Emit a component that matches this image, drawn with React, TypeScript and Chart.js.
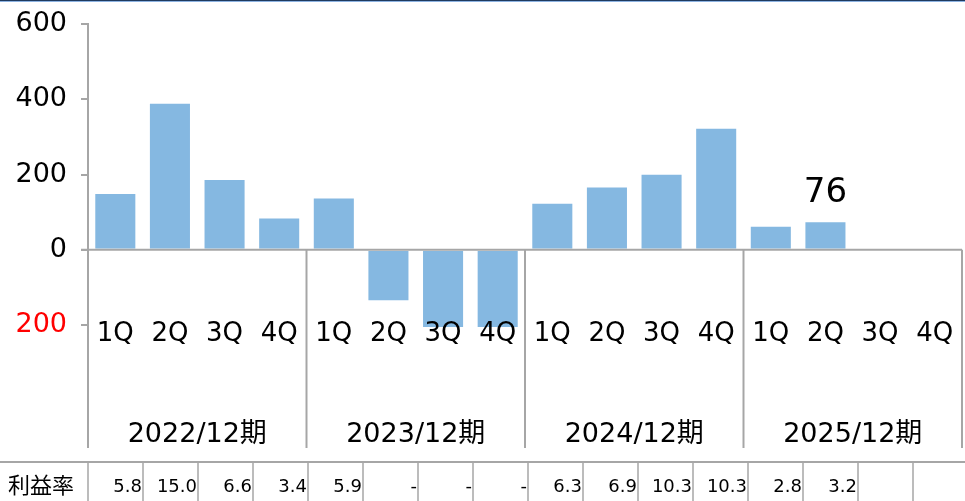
import React, { useEffect, useRef } from "react";
import { Chart, registerables } from "chart.js";

Chart.register(...registerables);

const quarters = ["1Q", "2Q", "3Q", "4Q", "1Q", "2Q", "3Q", "4Q", "1Q", "2Q", "3Q", "4Q", "1Q", "2Q", "3Q", "4Q"];
const years = ["2022/12期", "2023/12期", "2024/12期", "2025/12期"];
const profits: (number | null)[] = [151, 391, 188, 86, 139, -137, -208, -208, 125, 168, 202, 324, 64, 76, null, null];
const margins = ["5.8", "15.0", "6.6", "3.4", "5.9", "-", "-", "-", "6.3", "6.9", "10.3", "10.3", "2.8", "3.2", "", ""];
const marginLabel = "利益率";
const highlightIndex = 13;
const yMin = -200;
const yMax = 600;
const yStep = 200;

const FONT = '"DejaVu Sans", "Noto Sans CJK JP", sans-serif';
const AXIS = "#A6A6A6";
const BAR = "#85B8E1";

const overlay = {
  id: "overlay",
  afterDraw(chart: any) {
    const ctx = chart.ctx as CanvasRenderingContext2D;
    const x = chart.scales.x;
    const y = chart.scales.y;
    const W = chart.width;
    const left = chart.chartArea.left;
    const right = chart.chartArea.right;
    const y0 = y.getPixelForValue(0);
    const catW = (right - left) / quarters.length;
    ctx.save();

    // top rule
    ctx.fillStyle = "#1F3A5F";
    ctx.fillRect(0, 0, W, 1);
    ctx.fillStyle = "#8DB3E2";
    ctx.fillRect(0, 1, W, 1);

    // zero axis line
    ctx.strokeStyle = AXIS;
    ctx.lineWidth = 2;
    ctx.beginPath();
    ctx.moveTo(left - 7, y0);
    ctx.lineTo(right, y0);
    ctx.stroke();

    // group dividers
    const divBottom = 448;
    for (let g = 0; g <= years.length; g++) {
      const gx = left + g * 4 * catW;
      ctx.beginPath();
      ctx.moveTo(gx, y0);
      ctx.lineTo(gx, divBottom);
      ctx.stroke();
    }

    // quarter labels
    ctx.fillStyle = "#000";
    ctx.textAlign = "center";
    ctx.textBaseline = "alphabetic";
    ctx.font = `26px ${FONT}`;
    quarters.forEach((q, i) => {
      ctx.fillText(q, x.getPixelForValue(i), 341);
    });

    // year labels
    ctx.font = `27px ${FONT}`;
    years.forEach((yr, g) => {
      const cx = left + (g * 4 + 2) * catW;
      ctx.fillText(yr, cx, 442);
    });

    // highlighted value label
    const meta = chart.getDatasetMeta(0);
    const el = meta.data[highlightIndex];
    const v = profits[highlightIndex];
    if (el && v != null) {
      ctx.font = `34px ${FONT}`;
      ctx.fillText(String(v), el.x, el.y - 19);
    }

    // table
    const tTop = 462;
    const cellW = 55;
    ctx.strokeStyle = AXIS;
    ctx.lineWidth = 2;
    ctx.beginPath();
    ctx.moveTo(0, tTop);
    ctx.lineTo(W, tTop);
    ctx.stroke();
    ctx.lineWidth = 1.5;
    for (let i = 0; i <= margins.length; i++) {
      const lx = left + i * cellW;
      ctx.beginPath();
      ctx.moveTo(lx, tTop);
      ctx.lineTo(lx, chart.height);
      ctx.stroke();
    }
    ctx.fillStyle = "#000";
    ctx.textAlign = "left";
    ctx.font = `22px ${FONT}`;
    ctx.fillText(marginLabel, 8, 493);
    ctx.textAlign = "right";
    ctx.font = `18px ${FONT}`;
    margins.forEach((m, i) => {
      if (!m) return;
      ctx.fillText(m, left + (i + 1) * cellW - 1, 492);
    });

    ctx.restore();
  },
};

export default function App() {
  const ref = useRef<HTMLCanvasElement | null>(null);
  useEffect(() => {
    if (!ref.current) return;
    const chart = new Chart(ref.current, {
      type: "bar",
      data: {
        labels: quarters.map((q, i) => `${years[Math.floor(i / 4)]} ${q}`),
        datasets: [
          {
            data: profits as any,
            backgroundColor: BAR,
            borderColor: "rgba(255,255,255,0.45)",
            borderWidth: 1,
            barPercentage: 0.77,
            categoryPercentage: 1,
            clip: false as any,
          },
        ],
      },
      options: {
        responsive: false,
        devicePixelRatio: 1,
        animation: false,
        layout: { padding: { top: 24, right: 3, bottom: 176, left: 0 } },
        plugins: { legend: { display: false }, tooltip: { enabled: false } },
        scales: {
          x: { display: false },
          y: {
            min: yMin,
            max: yMax,
            afterFit: (s: any) => {
              s.width = 88;
              s.paddingTop = 0;
              s.paddingBottom = 0;
            },
            ticks: {
              stepSize: yStep,
              padding: 14,
              font: { family: FONT, size: 27 },
              color: (c: any) => (c.tick && c.tick.value < 0 ? "#FF0000" : "#000000"),
              callback: (v: any) => String(Math.abs(Number(v))),
            },
            grid: { drawOnChartArea: false, drawTicks: true, tickLength: 7, color: AXIS, lineWidth: 2 },
            border: { display: true, color: AXIS, width: 2 },
          },
        },
      },
      plugins: [overlay],
    });
    return () => chart.destroy();
  }, []);
  return (
    <div style={{ position: "fixed", left: 0, top: 0, width: 965, height: 501, background: "#fff" }}>
      <canvas ref={ref} width={965} height={501} style={{ display: "block" }} />
    </div>
  );
}
